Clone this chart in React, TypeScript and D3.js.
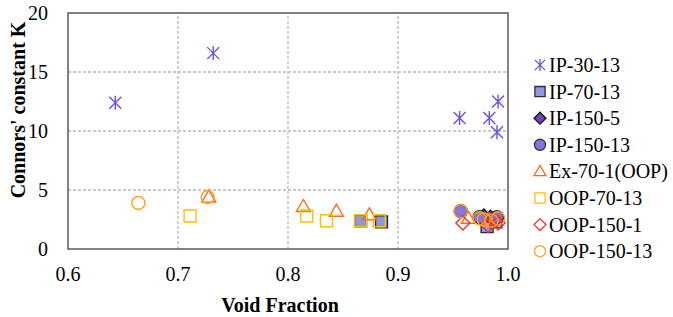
import React from "react";
import { scaleLinear, symbol, symbolCircle, symbolSquare } from "d3";

// series data: [void fraction, K]
const ip30_13 = [[0.643, 12.4], [0.732, 16.6], [0.956, 11.1], [0.983, 11.1], [0.991, 12.5], [0.990, 9.9]];
const ip70_13 = [[0.866, 2.4], [0.885, 2.3], [0.981, 1.9], [0.989, 2.3]];
const ip150_5 = [[0.978, 2.8], [0.984, 2.7], [0.990, 2.6]];
const ip150_13 = [[0.957, 3.2], [0.974, 2.7], [0.990, 2.7]];
const ex70_1 = [[0.728, 4.4], [0.814, 3.6], [0.844, 3.2], [0.874, 2.9], [0.964, 2.6], [0.982, 2.5]];
const oop70_13 = [[0.711, 2.8], [0.817, 2.8], [0.835, 2.4], [0.866, 2.4], [0.883, 2.4]];
const oop150_1 = [[0.959, 2.2], [0.982, 2.0], [0.988, 2.4], [0.991, 2.2]];
const oop150_13 = [[0.664, 3.9], [0.727, 4.4], [0.957, 3.2], [0.974, 2.6], [0.978, 2.5], [0.985, 2.4], [0.991, 2.6]];

const xTicks = [0.6, 0.7, 0.8, 0.9, 1.0];
const yTicks = [0, 5, 10, 15, 20];

const series = [
  { name: "IP-30-13", data: ip30_13, shape: "star", fill: "none", stroke: "#6f4ee6" },
  { name: "IP-70-13", data: ip70_13, shape: "square", fill: "#8e98df", stroke: "#2b2b45" },
  { name: "IP-150-5", data: ip150_5, shape: "diamond", fill: "#7244c4", stroke: "#151515" },
  { name: "IP-150-13", data: ip150_13, shape: "circle", fill: "#8474e0", stroke: "#333" },
  { name: "Ex-70-1(OOP)", data: ex70_1, shape: "triangle", fill: "none", stroke: "#ff6a14" },
  { name: "OOP-70-13", data: oop70_13, shape: "square", fill: "none", stroke: "#ffc000" },
  { name: "OOP-150-1", data: oop150_1, shape: "diamond", fill: "none", stroke: "#ff2a2a" },
  { name: "OOP-150-13", data: oop150_13, shape: "circle", fill: "none", stroke: "#ffa020" },
];

const W = 673;
const H = 317;
const margin = { top: 13, right: 165, bottom: 68, left: 68 };
const font = "Liberation Serif, Times New Roman, serif";

function markerPath(shape: string, k: number) {
  if (shape === "star") {
    const v = 7 * k, d = 6 * k;
    return `M0,${-v}L0,${v}M${-d},${-d}L${d},${d}M${-d},${d}L${d},${-d}`;
  }
  if (shape === "triangle") {
    return `M0,${-7 * k}L${7 * k},${5 * k}L${-7 * k},${5 * k}Z`;
  }
  if (shape === "diamond") {
    const r = 7 * k;
    return `M0,${-r}L${r},0L0,${r}L${-r},0Z`;
  }
  const t = shape === "square" ? symbolSquare : symbolCircle;
  const size = shape === "square" ? 144 : 135;
  return symbol(t, size * k * k)() as string;
}

export default function App() {
  const x = scaleLinear().domain([0.6, 1.0]).range([margin.left, W - margin.right]);
  const y = scaleLinear().domain([0, 20]).range([H - margin.bottom, margin.top]);
  const [x0, x1] = x.range();
  const [y0, y1] = y.range();

  return (
    <svg width={W} height={H} style={{ position: "absolute", left: 0, top: 0, background: "#fff" }} fontFamily={font}>
      {/* grid */}
      {yTicks.slice(1, -1).map(t => (
        <line key={"gy" + t} x1={x0} x2={x1} y1={y(t)} y2={y(t)} stroke="#b8b8b8" strokeWidth={1.3} strokeDasharray="3,2" />
      ))}
      {xTicks.slice(1, -1).map(t => (
        <line key={"gx" + t} x1={x(t)} x2={x(t)} y1={y0} y2={y1} stroke="#b8b8b8" strokeWidth={1.3} strokeDasharray="3,2" />
      ))}
      <rect x={x0} y={y1} width={x1 - x0} height={y0 - y1} fill="none" stroke="#595959" strokeWidth={1.5} />

      {/* tick labels */}
      {yTicks.map(t => (
        <text key={"ty" + t} x={x0 - 20} y={y(t)} dy="0.35em" textAnchor="end" fontSize={20}>{t}</text>
      ))}
      {xTicks.map(t => (
        <text key={"tx" + t} x={x(t)} y={y0 + 25} dy="0.35em" textAnchor="middle" fontSize={20}>{t.toFixed(1)}</text>
      ))}
      <text x={280} y={305} dy="0.35em" textAnchor="middle" fontSize={20} fontWeight="bold">Void Fraction</text>
      <text transform={`translate(18,110) rotate(-90)`} dy="0.35em" textAnchor="middle" fontSize={20} fontWeight="bold">Connors' constant K</text>

      {/* points */}
      {series.map(s => (
        <g key={s.name}>
          {s.data.map((d, i) => (
            <path key={i} d={markerPath(s.shape, 1)} transform={`translate(${x(d[0])},${y(d[1])})`}
              fill={s.fill} stroke={s.stroke} strokeWidth={1.4} />
          ))}
        </g>
      ))}

      {/* legend */}
      {series.map((s, i) => (
        <g key={"lg" + s.name} transform={`translate(540,${65 + i * 26.6})`}>
          <path d={markerPath(s.shape, 0.85)} fill={s.fill} stroke={s.stroke} strokeWidth={1.3} />
          <text x={9} dy="0.35em" fontSize={20}>{s.name}</text>
        </g>
      ))}
    </svg>
  );
}
